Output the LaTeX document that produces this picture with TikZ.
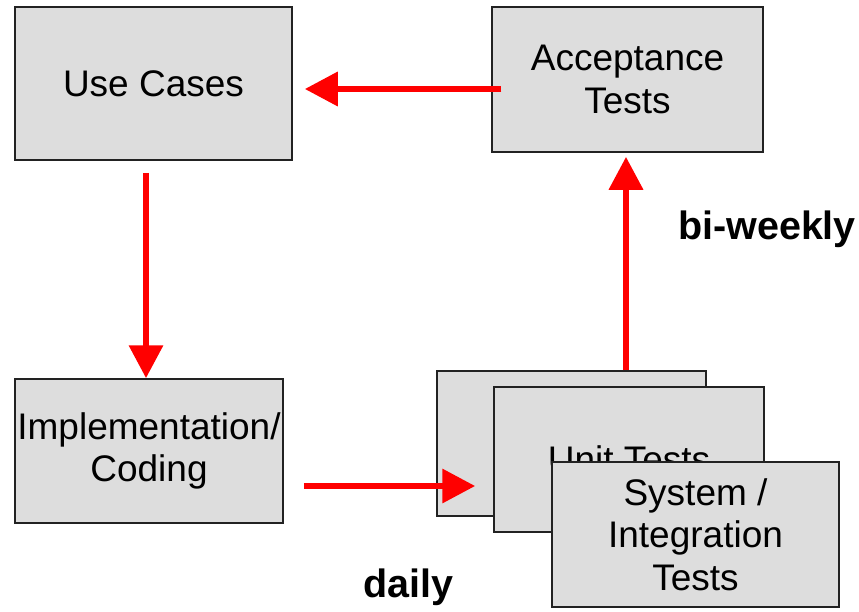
\documentclass[tikz,border=0pt]{standalone}
\usepackage{fontspec}
\setmainfont{Liberation Sans}
\usetikzlibrary{arrows.meta,calc}
\definecolor{boxgray}{HTML}{DDDDDD}
\definecolor{edge}{HTML}{222222}
\begin{document}
\begin{tikzpicture}[x=1pt,y=-1pt,
  box/.style={draw=edge,fill=boxgray,line width=1.5pt,inner sep=0pt,
    align=center,font=\fontsize{37}{42.5}\selectfont},
  arr/.style={draw=red,line width=6.5pt,-{Triangle[length=33pt,width=33pt]}},
  lbl/.style={font=\fontsize{39.5}{44}\selectfont\bfseries,anchor=base,inner sep=0pt}]
\useasboundingbox (0,0) rectangle (859,611);
% boxes
\node[box,minimum width=277pt,minimum height=153pt] (uc) at (153.5,83.5) {Use Cases};
\node[box,minimum width=271pt,minimum height=145pt] (at) at (627.5,79.5) {Acceptance\\Tests};
\node[box,minimum width=268pt,minimum height=144pt] (impl) at (149,451) {Implementation/\\Coding};
\node[box,minimum width=269pt,minimum height=145pt] (b1) at (571.5,443.5) {};
% arrows drawn over the back box
\coordinate (s3) at ($(impl.east)+(20pt,-35pt)$);
\coordinate (e3) at ($(b1.west |- s3)+(39pt,0)$);
\draw[arr] (s3) -- (e3);
\node[box,minimum width=270pt,minimum height=145pt] (unit) at (629,459.5) {Unit Tests};
\node[box,minimum width=287pt,minimum height=145pt] (sys) at (695.5,534.5) {System /\\Integration\\Tests};
% other arrows
\coordinate (s1) at ($(at.west)+(10pt,-9.5pt)$);
\coordinate (e1) at ($(uc.east |- s1)+(12pt,0)$);
\draw[arr] (s1) -- (e1);
\coordinate (s2) at ($(uc.south)+(-7.5pt,-12pt)$);
\coordinate (e2) at (s2 |- impl.north);
\draw[arr] (s2) -- (e2);
\coordinate (s4) at ($(b1.north)+(54.5pt,0)$);
\coordinate (e4) at ($(s4 |- at.south)+(0,-4pt)$);
\draw[arr] (s4) -- (e4);
% labels
\node[lbl] (bw) at (767,239) {bi-weekly};
\node[lbl] (dl) at (408.5,597) {daily};
\end{tikzpicture}
\end{document}
